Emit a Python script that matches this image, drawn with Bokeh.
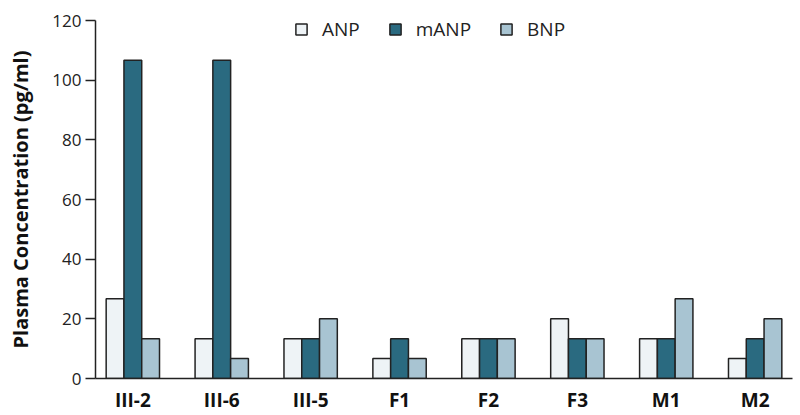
from bokeh.plotting import figure
from bokeh.models import ColumnDataSource, Range1d, FixedTicker, Legend, LegendItem
from bokeh.transform import dodge
from bokeh.embed import file_html
from bokeh.resources import INLINE

categories = ["III-2", "III-6", "III-5", "F1", "F2", "F3", "M1", "M2"]
anp = [26.7, 13.3, 13.3, 6.7, 13.3, 20.0, 13.3, 6.7]
manp = [106.7, 106.7, 13.3, 13.3, 13.3, 13.3, 13.3, 13.3]
bnp = [13.3, 6.7, 20.0, 6.7, 13.3, 13.3, 26.7, 20.0]
y_ticks = [0, 20, 40, 60, 80, 100, 120]

FONT = "Open Sans"
x_idx = list(range(len(categories)))
src = ColumnDataSource(dict(x=x_idx, anp=anp, manp=manp, bnp=bnp))

p = figure(frame_width=697, frame_height=358, output_backend="svg", toolbar_location=None,
           x_range=Range1d(-0.42, 7.42), y_range=Range1d(0, 120),
           min_border_left=95, min_border_right=3, min_border_top=20, min_border_bottom=0)
p.outline_line_color = None
p.xgrid.visible = False
p.ygrid.visible = False

bw = 0.2
r1 = p.vbar(x=dodge("x", -bw, range=p.x_range), top="anp", width=bw, source=src,
            fill_color="#eef3f6", line_color="#222222", line_width=1.5)
r2 = p.vbar(x=dodge("x", 0, range=p.x_range), top="manp", width=bw, source=src,
            fill_color="#2a6a80", line_color="#222222", line_width=1.5)
r3 = p.vbar(x=dodge("x", bw, range=p.x_range), top="bnp", width=bw, source=src,
            fill_color="#a8c4d2", line_color="#222222", line_width=1.5)

# x axis
p.xaxis.ticker = FixedTicker(ticks=x_idx)
p.xaxis.major_label_overrides = {i: c for i, c in enumerate(categories)}
p.xaxis.major_tick_line_color = None
p.xaxis.minor_tick_line_color = None
p.xaxis.major_label_text_font = FONT
p.xaxis.major_label_text_font_style = "bold"
p.xaxis.major_label_text_font_size = "19px"
p.xaxis.major_label_text_color = "#111111"
p.xaxis.major_label_standoff = 2
p.xaxis.axis_line_color = "#222222"
p.xaxis.axis_line_width = 1.5

# y axis
p.yaxis.ticker = FixedTicker(ticks=y_ticks)
p.yaxis.minor_tick_line_color = None
p.yaxis.major_tick_in = 0
p.yaxis.major_tick_out = 10
p.yaxis.major_tick_line_color = "#222222"
p.yaxis.major_tick_line_width = 1.5
p.yaxis.axis_line_color = "#222222"
p.yaxis.axis_line_width = 1.5
p.yaxis.major_label_text_font = FONT
p.yaxis.major_label_text_font_size = "17px"
p.yaxis.major_label_text_color = "#222222"
p.yaxis.major_label_standoff = 4
p.yaxis.axis_label = "Plasma Concentration (pg/ml)"
p.yaxis.axis_label_text_font = FONT
p.yaxis.axis_label_text_font_style = "bold"
p.yaxis.axis_label_text_font_size = "20px"
p.yaxis.axis_label_text_color = "#111111"
p.yaxis.axis_label_standoff = 15

legend = Legend(items=[LegendItem(label="ANP", renderers=[r1]),
                       LegendItem(label="mANP", renderers=[r2]),
                       LegendItem(label="BNP", renderers=[r3])],
                orientation="horizontal", location=(199, 336),
                glyph_width=14, glyph_height=14, label_height=22,
                label_standoff=14, spacing=28,
                padding=0, margin=0, border_line_color=None, background_fill_alpha=0,
                label_text_font=FONT, label_text_font_size="19px", label_text_color="#222222")
p.add_layout(legend, "center")

open("out.html", "w").write(file_html(p, INLINE))
